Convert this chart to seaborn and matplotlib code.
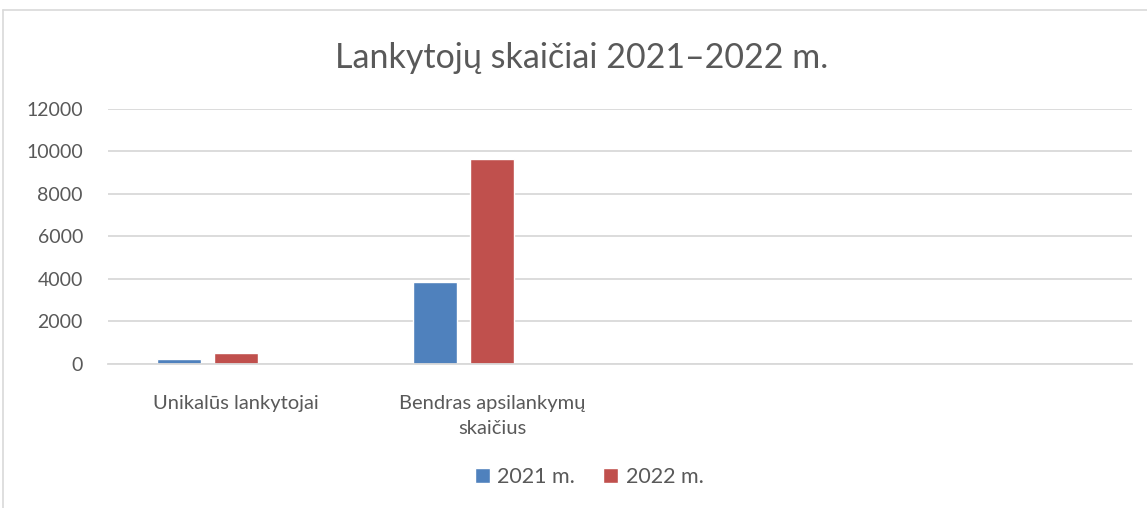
import numpy as np
import pandas as pd
import matplotlib.pyplot as plt
from matplotlib.patches import Patch
from matplotlib.lines import Line2D
import seaborn as sns

# ── duomenys ──
kategorijos = ["Unikalūs lankytojai", "Bendras apsilankymų\nskaičius", "", " "]
serijos = ["2021 m.", "2022 m.", "Serija 3"]
reiksmes_2021 = [250, 3870]
reiksmes_2022 = [540, 9620]
y_ticks = [0, 2000, 4000, 6000, 8000, 10000, 12000]

SPALVOS = {"2021 m.": "#4F81BD", "2022 m.": "#C0504D", "Serija 3": "#9BBB59"}
TEKSTAS = "#595959"
TINKLAS = "#D9D9D9"

sns.set_theme(style="white")
plt.rcParams["font.family"] = ["Lato", "DejaVu Sans"]
plt.rcParams["text.color"] = TEKSTAS

df = pd.DataFrame({
    "kategorija": kategorijos[:2] * 2,
    "serija": [serijos[0]] * 2 + [serijos[1]] * 2,
    "reiksme": reiksmes_2021 + reiksmes_2022,
})

fig = plt.figure(figsize=(11.47, 5.08), dpi=100)
ax = fig.add_axes([108 / 1147, 144 / 508, 1024 / 1147, 255.5 / 508])

sns.barplot(
    data=df, x="kategorija", y="reiksme", hue="serija",
    order=kategorijos, hue_order=serijos, palette=SPALVOS,
    width=0.668, gap=0.228, errorbar=None, legend=False,
    saturation=1, ax=ax,
)

ax.set_xlim(-0.5, len(kategorijos) - 0.5)
ax.set_ylim(0, 12000)
ax.set_yticks(y_ticks)
ax.set_yticklabels([str(v) for v in y_ticks], fontsize=14, color=TEKSTAS)
ax.set_xticks(range(len(kategorijos)))
ax.set_xticklabels(kategorijos, fontsize=14.5, color=TEKSTAS, linespacing=1.6)
ax.tick_params(axis="y", length=0, pad=18)
ax.tick_params(axis="x", length=0, pad=22)
ax.set_xlabel("")
ax.set_ylabel("")
ax.grid(axis="y", color=TINKLAS, linewidth=1.3)
ax.set_axisbelow(True)
for s in ["top", "right", "left"]:
    ax.spines[s].set_visible(False)
ax.spines["bottom"].set_color(TINKLAS)
ax.spines["bottom"].set_linewidth(1.3)

fig.text(582 / 1147, 1 - 68.5 / 508, "Lankytojų skaičiai 2021–2022 m.",
         ha="center", va="baseline", fontsize=24.5, color=TEKSTAS)

rankenos = [Patch(facecolor=SPALVOS[s], label=s) for s in serijos[:2]]
fig.legend(handles=rankenos, loc="center", bbox_to_anchor=(589 / 1147, 1 - 477 / 508),
           ncol=2, frameon=False, fontsize=15.5, handlelength=0.7, handleheight=0.7,
           handletextpad=0.35, columnspacing=1.3, labelcolor=TEKSTAS)

# rėmelis
fig.add_artist(Line2D([3 / 1147, 3 / 1147], [0, 1 - 10 / 508], transform=fig.transFigure,
                      color=TINKLAS, linewidth=1.2))
fig.add_artist(Line2D([3 / 1147, 1], [1 - 10 / 508, 1 - 10 / 508], transform=fig.transFigure,
                      color=TINKLAS, linewidth=1.2))

fig.savefig("out.png", dpi=100, facecolor="white")
